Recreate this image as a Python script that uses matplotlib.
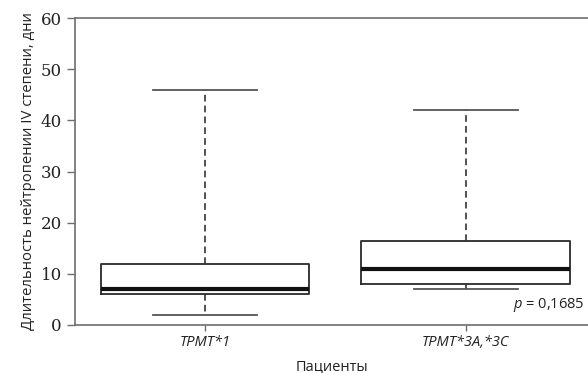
import numpy as np
import matplotlib
matplotlib.use('Agg')
import matplotlib.pyplot as plt

plt.rcParams['mathtext.fontset'] = 'custom'
plt.rcParams['mathtext.it'] = 'Open Sans:italic'
plt.rcParams['mathtext.rm'] = 'Open Sans'

# Box statistics (days)
groups = ['TPMT*1', 'TPMT*3A,*3C']
whisker_low = [2, 7]
q1 = [6, 8]
median = [7, 11]
q3 = [12, 16.5]
whisker_high = [46, 42]
y_ticks = [0, 10, 20, 30, 40, 50, 60]

stats = []
for i, g in enumerate(groups):
    stats.append({'label': g, 'whislo': whisker_low[i], 'q1': q1[i], 'med': median[i],
                  'q3': q3[i], 'whishi': whisker_high[i], 'fliers': []})

fig = plt.figure(figsize=(5.88, 3.73), dpi=100)
ax = fig.add_axes([0.1276, 0.1287, 0.8724, 0.823])

spine_col = '#6e6e6e'
bp = ax.bxp(stats, positions=[1, 2], widths=0.8, showfliers=False, patch_artist=False,
            boxprops=dict(color='#2a2a2a', linewidth=1.3),
            medianprops=dict(color='#111111', linewidth=3),
            whiskerprops=dict(color='#333333', linewidth=1.2, linestyle=(0, (4, 2.5))),
            capprops=dict(color='#555555', linewidth=1.3),
            capwidths=0.4)

ax.set_xlim(0.5, 2.47)
ax.set_ylim(0, 60)
ax.set_yticks(y_ticks)
ax.set_yticklabels([str(t) for t in y_ticks], family='DejaVu Serif', fontsize=12, color='#222222')
ax.set_xticks([1, 2])
ax.set_xticklabels(groups, style='italic', family='Open Sans', fontsize=10.5, color='#222222')
ax.tick_params(axis='both', color=spine_col, length=6, width=1)
ax.tick_params(axis='x', length=4)

ax.spines['right'].set_visible(False)
for s in ['left', 'top', 'bottom']:
    ax.spines[s].set_color(spine_col)
    ax.spines[s].set_linewidth(1.2)

ax.set_ylabel('Длительность нейтропении IV степени, дни', family='Open Sans', fontsize=10.7,
              color='#222222', labelpad=3)
ax.set_xlabel('Пациенты', family='Open Sans', fontsize=10.5, color='#222222', labelpad=6)

ax.text(0.993, 0.035, '$p$ = 0,1685', transform=ax.transAxes, ha='right', va='bottom',
        family='Open Sans', fontsize=10.5, color='#222222')

fig.savefig('out.png', dpi=100)
